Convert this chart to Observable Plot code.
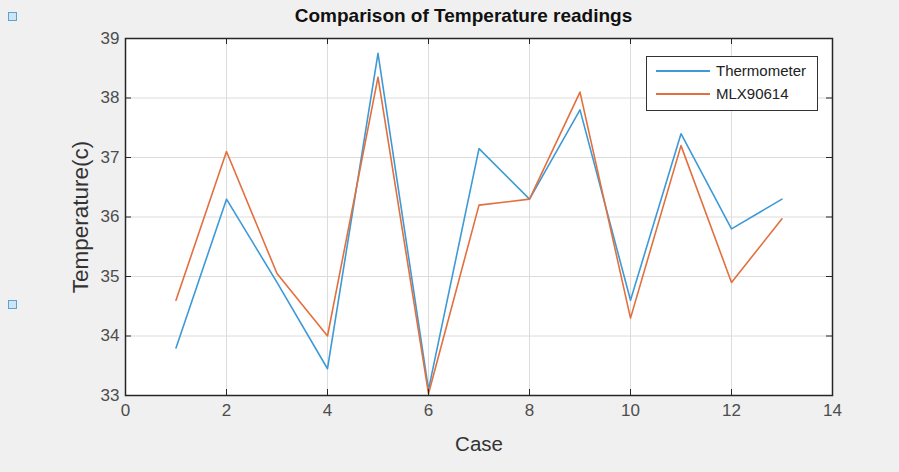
<!DOCTYPE html>
<html>
<head>
<meta charset="utf-8">
<script src="https://cdn.jsdelivr.net/npm/d3@7"></script>
<script src="https://cdn.jsdelivr.net/npm/@observablehq/plot@0.6"></script>
<style>
  html, body { margin: 0; padding: 0; background: #f0f0f0; }
  #wrap { position: relative; width: 899px; height: 472px; background: #f0f0f0; font-family: "Liberation Sans", Arial, sans-serif; overflow: hidden; }
  #title { position: absolute; top: 5px; left: 0; width: 927px; text-align: center; font-weight: bold; font-size: 19px; line-height: 22px; color: #111; }
  #legend { position: absolute; left: 646px; top: 56px; width: 172px; height: 55px; background: #fff; border: 1.5px solid #333; box-sizing: border-box; font-size: 15px; color: #222; }
  .lg { position: absolute; left: 9px; display: flex; align-items: center; }
  .lg span.sw { display: inline-block; width: 54px; height: 0; border-top: 2px solid; margin-right: 6px; }
  .hnd { position: absolute; width: 7px; height: 7px; border: 1px solid #5aa3d8; background: #cfe5f6; }
</style>
</head>
<body>
<div id="wrap">
  <div id="chart"></div>
  <div id="title">Comparison of Temperature readings</div>
  <div id="legend"></div>
  <div class="hnd" style="left:8px;top:12px"></div>
  <div class="hnd" style="left:8px;top:300px"></div>
</div>
<script>
const cases = [1, 2, 3, 4, 5, 6, 7, 8, 9, 10, 11, 12, 13];
const thermometer = [33.8, 36.3, 34.9, 33.45, 38.75, 33.1, 37.15, 36.3, 37.8, 34.6, 37.4, 35.8, 36.3];
const mlx90614 = [34.6, 37.1, 35.05, 34.0, 38.35, 33.03, 36.2, 36.3, 38.1, 34.3, 37.2, 34.9, 35.97];
const seriesNames = ["Thermometer", "MLX90614"];
const seriesColors = ["#3d9ad6", "#e2703f"];
const xTicks = [0, 2, 4, 6, 8, 10, 12, 14];
const yTicks = [33, 34, 35, 36, 37, 38, 39];

const rows = [];
cases.forEach((c, i) => {
  rows.push({case: c, temp: thermometer[i], series: seriesNames[0]});
  rows.push({case: c, temp: mlx90614[i], series: seriesNames[1]});
});

const W = 899, H = 472;
const mL = 125, mR = 67, mT = 38, mB = 77;
const plotH = H - mT - mB, plotW = W - mL - mR;
const tick = 6;

const chart = Plot.plot({
  width: W, height: H,
  marginLeft: mL, marginRight: mR, marginTop: mT, marginBottom: mB,
  style: {background: "#f0f0f0", fontFamily: "Liberation Sans, Arial, sans-serif", fontSize: "17px", color: "#4d4d4d"},
  x: {domain: [0, 14], ticks: xTicks, label: null},
  y: {domain: [33, 39], ticks: yTicks, label: null},
  color: {domain: seriesNames, range: seriesColors},
  marks: [
    Plot.frame({fill: "white", stroke: null}),
    Plot.gridX(xTicks, {stroke: "#dcdcdc", strokeOpacity: 1}),
    Plot.gridY(yTicks, {stroke: "#dcdcdc", strokeOpacity: 1}),
    Plot.line(rows, {x: "case", y: "temp", z: "series", stroke: "series", strokeWidth: 1.6}),
    Plot.ruleX(xTicks, {x: d => d, insetTop: plotH - tick, stroke: "#262626"}),
    Plot.ruleX(xTicks, {x: d => d, insetBottom: plotH - tick, stroke: "#262626"}),
    Plot.ruleY(yTicks, {y: d => d, insetRight: plotW - tick, stroke: "#262626"}),
    Plot.ruleY(yTicks, {y: d => d, insetLeft: plotW - tick, stroke: "#262626"}),
    Plot.frame({stroke: "#262626", strokeWidth: 1.5}),
    Plot.axisX(xTicks, {tickSize: 0, tickPadding: 8, tickFormat: d3.format("d"), fill: "#4d4d4d", fontSize: 17}),
    Plot.axisY(yTicks, {tickSize: 0, tickPadding: 6, tickFormat: d3.format("d"), fill: "#4d4d4d", fontSize: 17}),
    Plot.axisX({ticks: [], tickSize: 0, label: "Case", labelAnchor: "center", labelOffset: 55, labelArrow: "none", fill: "#333", fontSize: 20.5}),
    Plot.axisY({ticks: [], tickSize: 0, label: "Temperature(c)", labelAnchor: "center", labelOffset: 53, labelArrow: "none", fill: "#333", fontSize: 22.5})
  ]
});
document.getElementById("chart").appendChild(chart);

const lg = document.getElementById("legend");
seriesNames.forEach((n, i) => {
  const d = document.createElement("div");
  d.className = "lg";
  d.style.top = (5 + i * 23) + "px";
  d.innerHTML = `<span class="sw" style="border-color:${seriesColors[i]}"></span><span>${n}</span>`;
  lg.appendChild(d);
});
</script>
</body>
</html>
